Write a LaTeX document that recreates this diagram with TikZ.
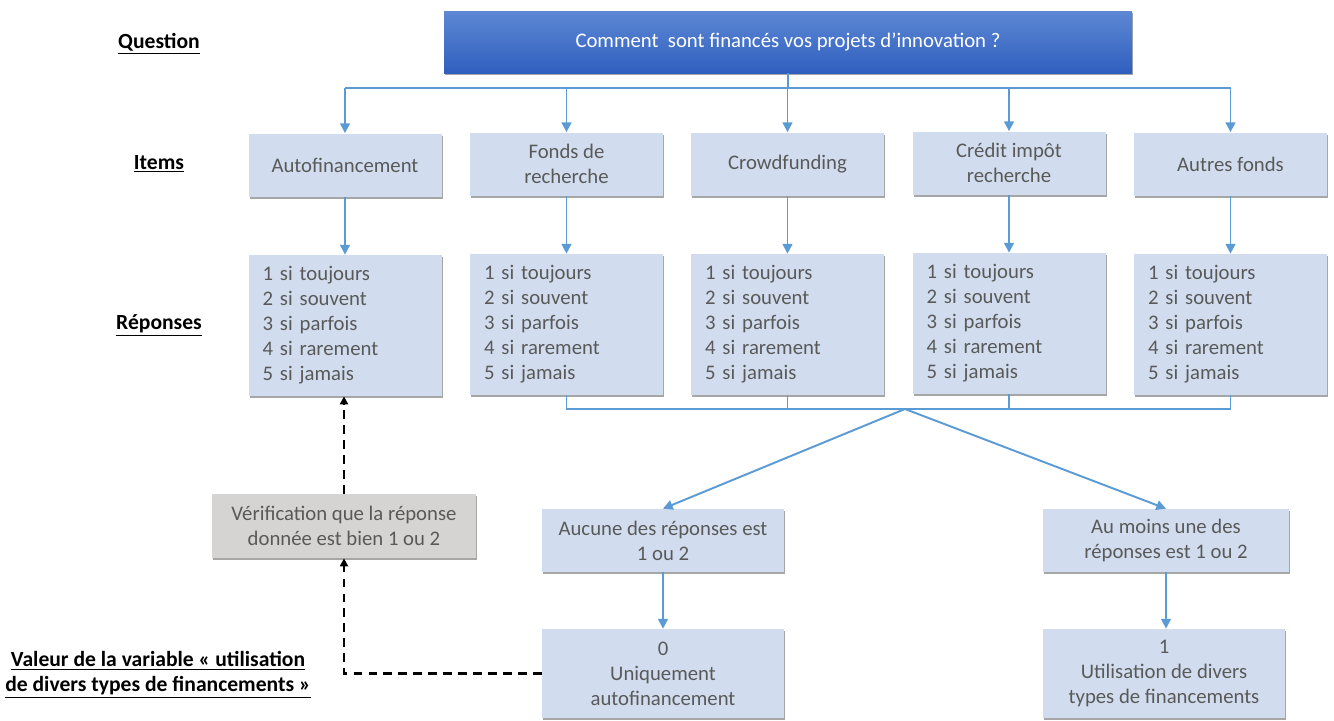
\documentclass[tikz,border=0pt]{standalone}
\usepackage{fontspec}
\setmainfont{Carlito}
\usetikzlibrary{arrows.meta,shadows}
\definecolor{boxfill}{RGB}{209,221,238}
\definecolor{boxtext}{RGB}{89,89,89}
\definecolor{greyfill}{RGB}{214,212,210}
\definecolor{linkblue}{RGB}{91,155,213}
\definecolor{qtop}{RGB}{94,136,212}
\definecolor{qbot}{RGB}{47,95,191}
\begin{document}
\begin{tikzpicture}[
  box/.style={fill=boxfill,text=boxtext,align=center,inner sep=2pt,
    font=\fontsize{11.8}{14.2}\selectfont,
    drop shadow={shadow xshift=0.8pt,shadow yshift=-1.3pt,fill=black,opacity=0.35}},
  itembox/.style={box,minimum width=3.86cm,minimum height=1.26cm},
  answbox/.style={box,align=left,text width=3.3cm,inner xsep=0.28cm,minimum height=2.82cm},
  label/.style={font=\fontsize{12.3}{14.2}\selectfont\bfseries,align=center},
  bus/.style={draw=linkblue,line width=1.1pt},
  arr/.style={bus,-{Triangle[width=5.5pt,length=5.5pt]}},
  dasharr/.style={line width=1.2pt,dash pattern=on 5pt off 3.5pt,-{Triangle[width=4.5pt,length=4.5pt]}}
]
\useasboundingbox (0,0) rectangle (26.68,-14.4);
% left column
\node[label] (LQ) at (3.18,-0.88) {\underline{Question}};
\node[label] (LI) at (3.18,-3.28) {\underline{Items}};
\node[label] (LR) at (3.18,-6.5) {\underline{Réponses}};
\node[label] (LV) at (3.16,-13.5) {\underline{Valeur de la variable « utilisation}\\\underline{de divers types de financements »}};
% question
\node[box,top color=qtop,bottom color=qbot,text=white,minimum width=13.76cm,minimum height=1.24cm] (Q) at (15.76,-0.84) {Comment\ \ sont financés vos projets d’innovation ?};
% items
\node[itembox] (I1) at (6.9,-3.3) {Autofinancement};
\node[itembox] (I2) at (11.33,-3.28) {Fonds de\\recherche};
\node[itembox] (I3) at (15.75,-3.28) {Crowdfunding};
\node[itembox] (I4) at (20.18,-3.26) {Crédit impôt\\recherche};
\node[itembox] (I5) at (24.61,-3.28) {Autres fonds};
% responses
\foreach \i/\x/\y in {1/6.9/-6.51,2/11.33/-6.49,3/15.75/-6.49,4/20.18/-6.47,5/24.61/-6.49}
  \node[answbox] (R\i) at (\x,\y) {1 si toujours\\2 si souvent\\3 si parfois\\4 si rarement\\5 si jamais};
% outcomes
\node[box,minimum width=4.84cm,minimum height=1.26cm] (A) at (13.26,-10.81) {Aucune des réponses est\\1 ou 2};
\node[box,minimum width=4.92cm,minimum height=1.26cm] (B) at (23.32,-10.81) {Au moins une des\\réponses est 1 ou 2};
\node[box,minimum width=4.84cm,minimum height=1.78cm] (A0) at (13.26,-13.47) {0\\Uniquement\\autofinancement};
\node[box,minimum width=4.84cm,minimum height=1.78cm] (B1) at (23.28,-13.47) {1\\Utilisation de divers\\types de financements};
\node[box,fill=greyfill,minimum width=5.28cm,minimum height=1.28cm] (G) at (6.88,-10.52) {Vérification que la réponse\\donnée est bien 1 ou 2};
% connectors
\coordinate (top) at (15.76,-1.76);
\coordinate (join) at (18.1,-8.18);
\draw[bus] (Q.south) -- (top);
\draw[bus] (I1.north |- top) -- (I5.north |- top);
\foreach \i in {1,...,5} {
  \draw[arr] (I\i.north |- top) -- (I\i.north);
  \draw[arr] (I\i.south) -- (R\i.north);
}
\draw[bus] (R2.south) -- (R2.south |- join) -- (R5.south |- join) -- (R5.south);
\draw[bus] (R3.south) -- (R3.south |- join);
\draw[bus] (R4.south) -- (R4.south |- join);
\draw[arr] (join) -- (A.north);
\draw[arr] (join) -- (B.north);
\draw[arr] (A.south) -- (A0.north);
\draw[arr] (B.south) -- (B.south |- B1.north);
\draw[dasharr] (A0.west) -- (G.south |- A0.west) -- (G.south);
\draw[dasharr] (G.north) -- (G.north |- R1.south);
\end{tikzpicture}
\end{document}
